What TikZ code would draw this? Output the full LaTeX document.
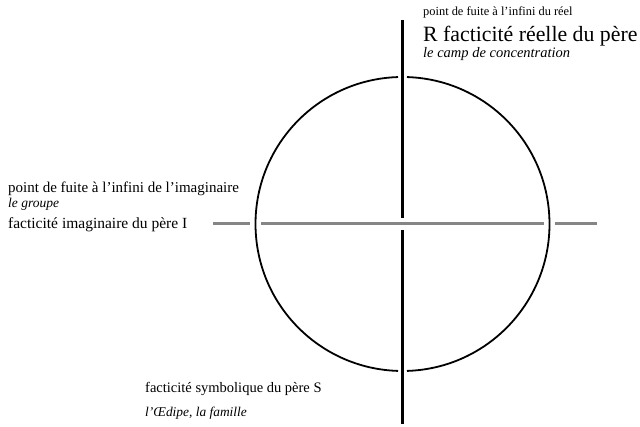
\documentclass[tikz,border=0pt]{standalone}
\usepackage{fontspec}
\setmainfont{Liberation Serif}
\begin{document}
\begin{tikzpicture}[x=1pt,y=1pt,
    txt/.style={anchor=base west,inner sep=0pt},
    reel/.style={line width=2.6pt,black},
    ronde/.style={line width=1.8pt,black},
    imag/.style={line width=3pt,black!48}]
        \useasboundingbox (0,0) rectangle (640,427);

        % the three lines
        \coordinate (c) at (402.5,203);
        \draw[ronde] (c) ++(91.75:147) arc (91.75:268.25:147);
        \draw[ronde] (c) ++(-88.25:147) arc (-88.25:88.25:147);

        \draw[imag] (213,203) -- (250,203);
        \draw[imag] (261,203) -- (544,203);
        \draw[imag] (555,203) -- (597,203);

        \draw[reel] (402.5,407) -- (402.5,209);
        \draw[reel] (402.5,197) -- (402.5,3);

        % R
        \node[txt,font=\fontsize{12.4}{14}\selectfont] (fuiteR) at (423,411) {point de fuite à l'infini du réel};
        \node[txt,font=\fontsize{21.8}{24}\selectfont] (R) at (423,385) {R facticité réelle du père};
        \node[txt,font=\fontsize{14.5}{16}\selectfont\itshape] (camp) at (423,369) {le camp de concentration};

        % I
        \node[txt,font=\fontsize{15}{17}\selectfont] (fuiteI) at (8,234) {point de fuite à l'infini de l'imaginaire};
        \node[txt,font=\fontsize{13.5}{15}\selectfont\itshape] (groupe) at (8,219) {le groupe};
        \node[txt,font=\fontsize{15.5}{18}\selectfont] (I) at (8,198) {facticité imaginaire du père I};

        % S
        \node[txt,font=\fontsize{14.5}{17}\selectfont] (S) at (145,34) {facticité symbolique du père S};
        \node[txt,font=\fontsize{13.4}{16}\selectfont\itshape] (oedipe) at (145,10) {l'Œdipe, la famille};
\end{tikzpicture}
\end{document}
